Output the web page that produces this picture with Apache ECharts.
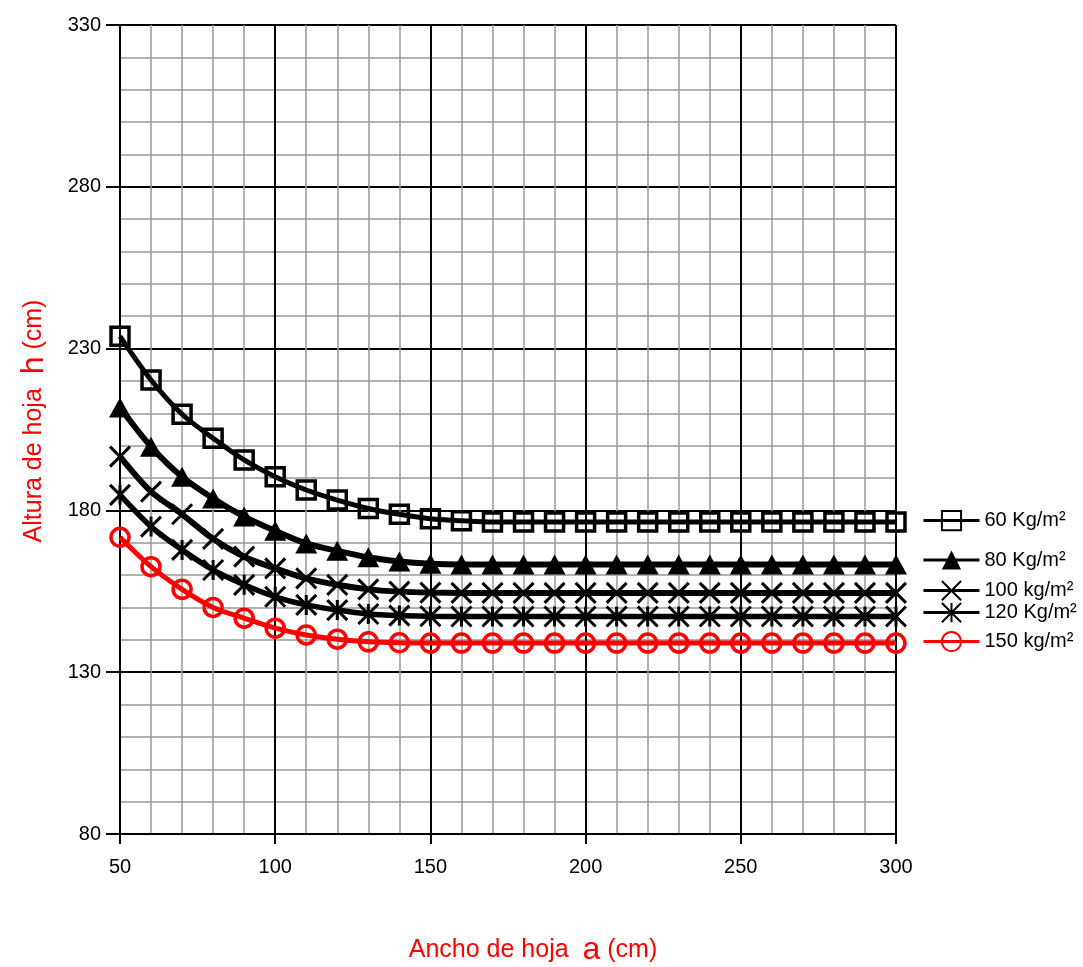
<!DOCTYPE html>
<html>
<head>
<meta charset="utf-8">
<script src="https://cdn.jsdelivr.net/npm/echarts@6/dist/echarts.min.js"></script>
<style>html,body{margin:0;padding:0;background:#fff;}#c{width:1083px;height:967px;}</style>
</head>
<body>
<div id="c"></div>
<script>
var xValues = [50,60,70,80,90,100,110,120,130,140,150,160,170,180,190,200,210,220,230,240,250,260,270,280,290,300];
var seriesNames = ['60 Kg/m²','80 Kg/m²','100 kg/m²','120 Kg/m²','150 kg/m²'];
var s60  = [233.8,220.3,209.7,202.3,195.6,190.4,186.3,183.2,180.6,178.8,177.4,176.8,176.4,176.4,176.4,176.4,176.4,176.4,176.4,176.4,176.4,176.4,176.4,176.4,176.4,176.4];
var s80  = [211.8,199.7,190.4,183.7,178.1,173.7,169.8,167.5,165.5,164.2,163.5,163.3,163.3,163.3,163.3,163.3,163.3,163.3,163.3,163.3,163.3,163.3,163.3,163.3,163.3,163.3];
var s100 = [196.6,185.8,178.8,171.2,165.7,162.1,159.0,157.0,155.6,154.9,154.6,154.5,154.5,154.5,154.5,154.5,154.5,154.5,154.5,154.5,154.5,154.5,154.5,154.5,154.5,154.5];
var s120 = [184.8,175.0,167.8,161.6,157.0,153.3,150.8,149.2,148.0,147.5,147.3,147.2,147.2,147.2,147.2,147.2,147.2,147.2,147.2,147.2,147.2,147.2,147.2,147.2,147.2,147.2];
var s150 = [171.7,162.6,155.6,150.0,146.7,143.6,141.5,140.2,139.4,139.1,139.0,139.0,139.0,139.0,139.0,139.0,139.0,139.0,139.0,139.0,139.0,139.0,139.0,139.0,139.0,139.0];
var yTicks = [80,130,180,230,280,330];
var xTicks = [50,100,150,200,250,300];

function pairs(v){ return xValues.map(function(x,i){ return [x, v[i]]; }); }

var FONT = '"Liberation Sans", Arial, sans-serif';
var chart = echarts.init(document.getElementById('c'), null, {renderer:'canvas'});

var legendCenters = [522,562,592,614,643];
var legends = seriesNames.map(function(n,i){
  return {
    data:[n], left:922, top:legendCenters[i]-12, padding:0, orient:'vertical',
    itemWidth:56, itemHeight:24, itemGap:0,
    textStyle:{fontFamily:FONT, fontSize:20, color:'#000'},
    lineStyle:{width:3}
  };
});

var nameRich = {
  a:{fontFamily:FONT, fontSize:25, color:'#ff0000'},
  b:{fontFamily:FONT, fontSize:32, color:'#ff0000'}
};

var common = {type:'line', smooth:0.3, z:3};
chart.setOption({
  animation:false,
  backgroundColor:'#fff',
  grid:{left:120, right:187, top:25, bottom:133, containLabel:false, outerBoundsMode:'none'},
  legend: legends,
  xAxis:{
    type:'value', min:xTicks[0], max:xTicks[xTicks.length-1], interval:50,
    name:'{a|Ancho de hoja  }{b|a}{a| (cm)}', nameLocation:'middle', nameGap:100,
    nameTextStyle:{rich:nameRich, padding:[0,0,0,50]},
    axisLine:{show:true, onZero:false, lineStyle:{color:'#000', width:2}},
    axisTick:{show:true, length:10, lineStyle:{color:'#000', width:2}},
    axisLabel:{margin:23, fontFamily:FONT, fontSize:20, color:'#000'},
    splitLine:{show:true, lineStyle:{color:'#000', width:2}},
    minorTick:{show:false, splitNumber:5},
    minorSplitLine:{show:true, lineStyle:{color:'#999', width:1.5}}
  },
  yAxis:{
    type:'value', min:yTicks[0], max:yTicks[yTicks.length-1], interval:50,
    name:'{a|Altura de hoja  }{b|h}{a| (cm)}', nameLocation:'middle', nameGap:70,
    nameTextStyle:{rich:nameRich, padding:[0,0,0,17]},
    axisLine:{show:true, onZero:false, lineStyle:{color:'#000', width:2}},
    axisTick:{show:true, length:14, lineStyle:{color:'#000', width:2}},
    axisLabel:{margin:19, fontFamily:FONT, fontSize:20, color:'#000'},
    splitLine:{show:true, lineStyle:{color:'#000', width:2}},
    minorTick:{show:false, splitNumber:5},
    minorSplitLine:{show:true, lineStyle:{color:'#999', width:1.5}}
  },
  series:[
    Object.assign({}, common, {name:seriesNames[0], data:pairs(s60), symbol:'rect', symbolSize:18,
      lineStyle:{color:'#000', width:5}, itemStyle:{color:'rgba(255,255,255,0)', borderColor:'#000', borderWidth:3.5}}),
    Object.assign({}, common, {name:seriesNames[1], data:pairs(s80), symbol:'triangle', symbolSize:[22,20],
      lineStyle:{color:'#000', width:6}, itemStyle:{color:'#000', borderColor:'#000', borderWidth:0}}),
    Object.assign({}, common, {name:seriesNames[2], data:pairs(s100), symbol:'path://M0,0L10,10M10,0L0,10', symbolSize:20,
      lineStyle:{color:'#000', width:6}, itemStyle:{color:'#000', borderColor:'#000', borderWidth:3}}),
    Object.assign({}, common, {name:seriesNames[3], data:pairs(s120), symbol:'path://M0,0L10,10M10,0L0,10M5,0L5,10', symbolSize:20,
      lineStyle:{color:'#000', width:5.5}, itemStyle:{color:'#000', borderColor:'#000', borderWidth:3}}),
    Object.assign({}, common, {name:seriesNames[4], data:pairs(s150), symbol:'circle', symbolSize:18,
      lineStyle:{color:'#ff0000', width:5}, itemStyle:{color:'rgba(255,255,255,0)', borderColor:'#ff0000', borderWidth:3.5}})
  ]
});
</script>
</body>
</html>
